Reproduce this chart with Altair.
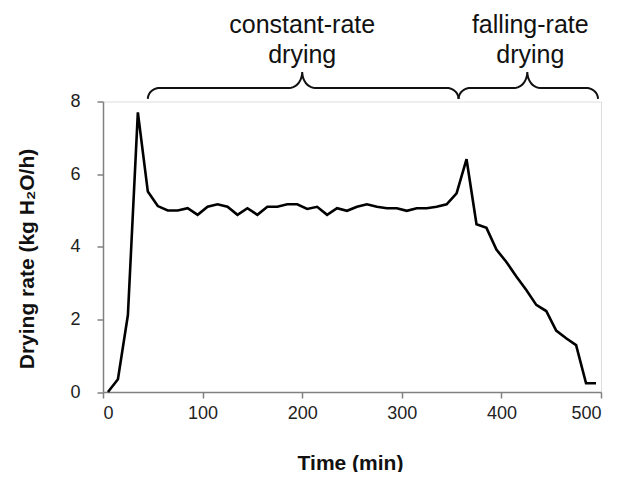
import math
import altair as alt
import pandas as pd

# ---- data ----
time_min = [5, 15, 25, 35, 45, 55, 65, 75, 85, 95,
            105, 115, 125, 135, 145, 155, 165, 175, 185, 195,
            205, 215, 225, 235, 245, 255, 265, 275, 285, 295,
            305, 315, 325, 335, 345, 355, 365, 375, 385, 395,
            405, 415, 425, 435, 445, 455, 465, 475, 485, 495]
drying_rate = [0.0, 0.35, 2.12, 7.7, 5.52, 5.12, 5.0, 5.0, 5.06, 4.88,
               5.1, 5.17, 5.1, 4.88, 5.06, 4.88, 5.1, 5.1, 5.17, 5.17,
               5.04, 5.1, 4.88, 5.06, 4.99, 5.1, 5.17, 5.1, 5.06, 5.06,
               4.99, 5.06, 5.06, 5.1, 5.17, 5.47, 6.41, 4.62, 4.52, 3.92,
               3.58, 3.18, 2.81, 2.4, 2.23, 1.69, 1.48, 1.29, 0.24, 0.24]

x_ticks = [0, 100, 200, 300, 400, 500]
y_ticks = [0, 2, 4, 6, 8]

# phase annotations (braces above the plot)
phase_line1 = ["constant-rate", "falling-rate"]
phase_line2 = ["drying", "drying"]
phase_start = [45, 357]
phase_end = [357, 497]
phase_tip = [200, 426]
phase_text_x = [200, 429]
text_y1 = 10.12
text_y2 = 9.28

W, H = 498, 290.5
XMAX, YMAX = 500, 8
px_t = W / XMAX   # pixels per minute
px_y = H / YMAX   # pixels per unit rate

# brace geometry (in data units)
base_y = 8.07
bar_h = 11 / px_y
tip_h = 16 / px_y
r_end = 12 / px_t
r_tip = 13 / px_t


def brace(x0, x1, xm, name):
    pts = []
    n = 10
    for i in range(n + 1):
        th = math.pi / 2 * i / n
        pts.append((x0 + r_end * (1 - math.cos(th)), base_y + bar_h * math.sin(th)))
    for i in range(n + 1):
        th = math.pi / 2 * i / n
        pts.append((xm - r_tip + r_tip * math.sin(th), base_y + bar_h + tip_h * (1 - math.cos(th))))
    for i in range(n + 1):
        th = math.pi / 2 * i / n
        pts.append((xm + r_tip - r_tip * math.cos(th), base_y + bar_h + tip_h * (1 - math.sin(th))))
    for i in range(n + 1):
        th = math.pi / 2 * i / n
        pts.append((x1 - r_end + r_end * math.sin(th), base_y + bar_h * math.cos(th)))
    return [{"brace": name, "order": k, "t": p[0], "y": p[1]} for k, p in enumerate(pts)]


brace_rows = []
for i in range(len(phase_start)):
    brace_rows += brace(phase_start[i], phase_end[i], phase_tip[i], f"b{i}")
brace_df = pd.DataFrame(brace_rows)

text_rows = []
for i in range(len(phase_line1)):
    text_rows.append({"t": phase_text_x[i], "y": text_y1, "label": phase_line1[i]})
    text_rows.append({"t": phase_text_x[i], "y": text_y2, "label": phase_line2[i]})
text_df = pd.DataFrame(text_rows)

df = pd.DataFrame({"time": time_min, "rate": drying_rate})

FONT = "Liberation Sans"
GREY = "#808080"

x_scale = alt.Scale(domain=[0, XMAX], nice=False)
y_scale = alt.Scale(domain=[0, YMAX], nice=False)

line = alt.Chart(df).mark_line(color="black", strokeWidth=2.6).encode(
    x=alt.X("time:Q", scale=x_scale,
            axis=alt.Axis(values=x_ticks, title="Time (min)", grid=False,
                          labelFontSize=18, labelFont=FONT, labelColor="#222222",
                          labelPadding=6, tickSize=6, tickColor=GREY, tickWidth=1.5,
                          domainColor=GREY, domainWidth=1.5,
                          titleFont=FONT, titleFontSize=21, titleFontWeight="bold",
                          titleColor="#111111", titleBaseline="alphabetic",
                          titleY=77, titleX=247)),
    y=alt.Y("rate:Q", scale=y_scale,
            axis=alt.Axis(values=y_ticks, title="Drying rate (kg H₂O/h)", grid=False,
                          labelFontSize=18, labelFont=FONT, labelColor="#222222",
                          labelPadding=17, tickSize=6, tickColor=GREY, tickWidth=1.5,
                          domainColor=GREY, domainWidth=1.5,
                          titleFont=FONT, titleFontSize=21, titleFontWeight="bold",
                          titleColor="#111111", titleAngle=-90,
                          titleBaseline="middle", titleX=-76, titleY=157)),
)

braces = alt.Chart(brace_df).mark_line(color="#111111", strokeWidth=2, clip=False).encode(
    x=alt.X("t:Q", scale=x_scale),
    y=alt.Y("y:Q", scale=y_scale),
    detail="brace:N",
    order="order:Q",
)

labels = alt.Chart(text_df).mark_text(
    font=FONT, fontSize=25, color="#111111", baseline="middle", align="center", clip=False
).encode(
    x=alt.X("t:Q", scale=x_scale),
    y=alt.Y("y:Q", scale=y_scale),
    text="label:N",
)

chart = alt.layer(line, braces, labels).properties(
    width=W, height=H,
    autosize=alt.AutoSizeParams(type="none"),
    padding={"left": 95, "top": 93.5, "right": 12, "bottom": 80},
).configure_view(stroke=GREY, strokeWidth=1.5).configure(background="white")

chart.save("out.html", embed_options={"renderer": "svg", "actions": False})
